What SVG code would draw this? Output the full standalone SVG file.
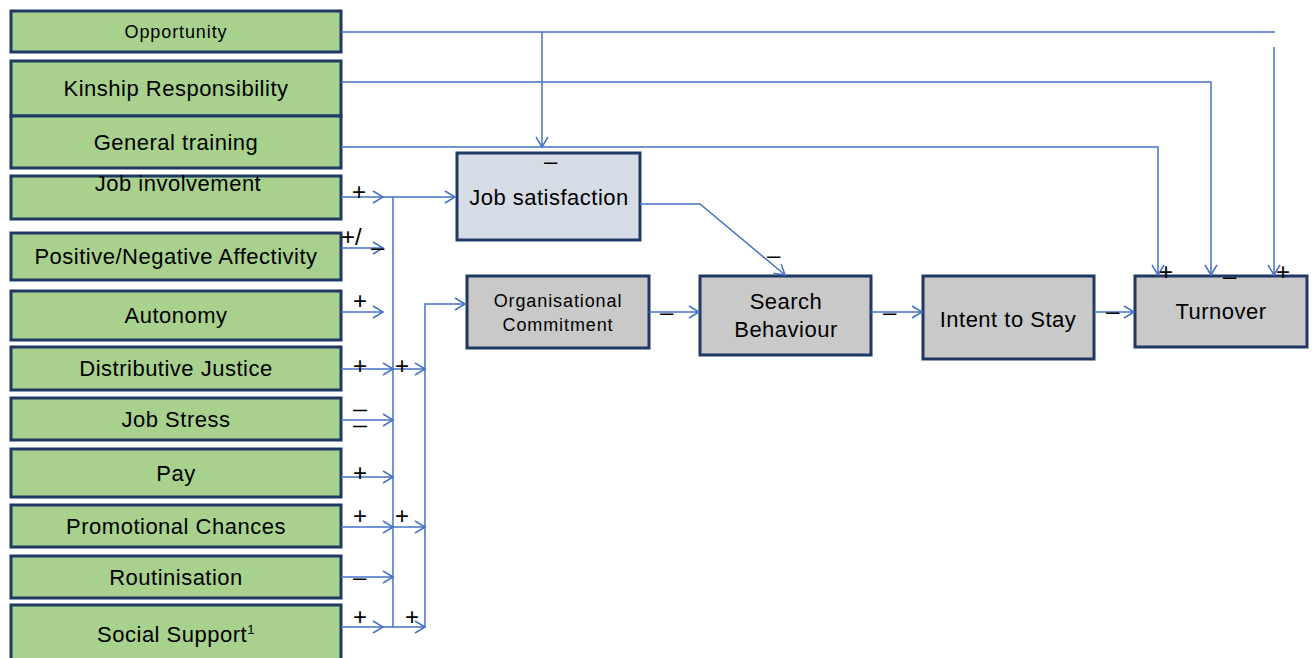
<svg xmlns="http://www.w3.org/2000/svg" width="1313" height="658" viewBox="0 0 1313 658">
<style>
.g{fill:#A9D18E;stroke:#1F3864;stroke-width:3}
.js{fill:#D6DCE5;stroke:#1F3864;stroke-width:3}
.gr{fill:#C9C9C9;stroke:#1F3864;stroke-width:3}
text{font-family:"Liberation Sans",Arial,sans-serif;fill:#000}
.t{font-size:22px;text-anchor:middle;letter-spacing:0.5px}
.s{font-size:18px;text-anchor:middle;letter-spacing:0.9px}
.l{font-size:24px}
.d{font-size:14px;font-weight:bold}
.c{fill:none;stroke:#4472C4;stroke-width:1.5}
</style>
<defs>
<marker id="a" markerUnits="userSpaceOnUse" markerWidth="14" markerHeight="16" viewBox="0 0 14 16" refX="12" refY="8" orient="auto">
<path d="M2,2 L12,8 L2,14" fill="none" stroke="#4472C4" stroke-width="1.5"/>
</marker>
</defs>
<rect width="1313" height="658" fill="#fff"/>
<g id="opportunity"><rect class="g" x="11" y="11" width="330" height="41"/><text class="s" x="176" y="38">Opportunity</text></g>
<g id="kinship"><rect class="g" x="11" y="61" width="330" height="55"/><text class="t" x="176" y="96">Kinship Responsibility</text></g>
<g id="training"><rect class="g" x="11" y="116" width="330" height="52"/><text class="t" x="176" y="150">General training</text></g>
<g id="involvement"><rect class="g" x="11" y="176" width="330" height="43"/><text class="t" x="178" y="191">Job involvement</text></g>
<g id="affectivity"><rect class="g" x="11" y="233" width="330" height="47"/><text class="t" x="176" y="264">Positive/Negative Affectivity</text></g>
<g id="autonomy"><rect class="g" x="11" y="291" width="330" height="49"/><text class="t" x="176" y="323">Autonomy</text></g>
<g id="justice"><rect class="g" x="11" y="347" width="330" height="43"/><text class="t" x="176" y="376">Distributive Justice</text></g>
<g id="stress"><rect class="g" x="11" y="398" width="330" height="42"/><text class="t" x="176" y="427">Job Stress</text></g>
<g id="pay"><rect class="g" x="11" y="449" width="330" height="48"/><text class="t" x="176" y="481">Pay</text></g>
<g id="promotion"><rect class="g" x="11" y="505" width="330" height="42"/><text class="t" x="176" y="534">Promotional Chances</text></g>
<g id="routinisation"><rect class="g" x="11" y="556" width="330" height="42"/><text class="t" x="176" y="585">Routinisation</text></g>
<g id="support"><rect class="g" x="11" y="605" width="330" height="60"/><text class="t" x="176" y="642">Social Support<tspan font-size="13" dy="-8">1</tspan></text></g>
<g id="satisfaction"><rect class="js" x="457" y="153" width="183" height="87"/><text class="t" x="549" y="205">Job satisfaction</text></g>
<g id="commitment"><rect class="gr" x="467" y="276" width="182" height="72"/><text class="s" x="558" y="307">Organisational</text><text class="s" x="558" y="331">Commitment</text></g>
<g id="search"><rect class="gr" x="700" y="276" width="171" height="79"/><text class="t" x="786" y="309">Search</text><text class="t" x="786" y="337">Behaviour</text></g>
<g id="intent"><rect class="gr" x="923" y="276" width="171" height="83"/><text class="t" x="1008" y="327">Intent to Stay</text></g>
<g id="turnover"><rect class="gr" x="1135" y="276" width="172" height="71"/><text class="t" x="1221" y="319">Turnover</text></g>
<g id="connectors">
<path class="c" d="M341,32 H1275"/>
<path class="c" d="M1274,47 V275" marker-end="url(#a)"/>
<path class="c" d="M542,32 V147" marker-end="url(#a)"/>
<path class="c" d="M341,82 H1211 V275" marker-end="url(#a)"/>
<path class="c" d="M341,147 H1158 V275" marker-end="url(#a)"/>
<path class="c" d="M640,204 H700 L785,275" marker-end="url(#a)"/>
<path class="c" d="M341,197 H383" marker-end="url(#a)"/>
<path class="c" d="M383,197 H455" marker-end="url(#a)"/>
<path class="c" d="M393,197 V627"/>
<path class="c" d="M341,248 H383" marker-end="url(#a)"/>
<path class="c" d="M341,312 H383" marker-end="url(#a)"/>
<path class="c" d="M341,369 H393" marker-end="url(#a)"/>
<path class="c" d="M393,369 H425" marker-end="url(#a)"/>
<path class="c" d="M341,420 H393" marker-end="url(#a)"/>
<path class="c" d="M341,477 H393" marker-end="url(#a)"/>
<path class="c" d="M341,527 H393" marker-end="url(#a)"/>
<path class="c" d="M393,527 H425" marker-end="url(#a)"/>
<path class="c" d="M341,577 H393" marker-end="url(#a)"/>
<path class="c" d="M341,627 H383" marker-end="url(#a)"/>
<path class="c" d="M383,627 H425" marker-end="url(#a)"/>
<path class="c" d="M425,627 V304 H465" marker-end="url(#a)"/>
<path class="c" d="M649,312 H699" marker-end="url(#a)"/>
<path class="c" d="M871,312 H922" marker-end="url(#a)"/>
<path class="c" d="M1094,312 H1134" marker-end="url(#a)"/>
</g>
<g id="labels">
<text class="l" x="352" y="200">+</text>
<text class="l" x="341" y="245">+/</text>
<text class="l" x="371" y="255">–</text>
<text class="l" x="353" y="309">+</text>
<text class="l" x="353" y="374">+</text>
<text class="l" x="395" y="374">+</text>
<text class="d" x="353" y="415">—</text>
<text class="d" x="353" y="431">—</text>
<text class="l" x="353" y="481">+</text>
<text class="l" x="353" y="524">+</text>
<text class="l" x="395" y="524">+</text>
<text class="l" x="353" y="585">–</text>
<text class="l" x="353" y="625">+</text>
<text class="l" x="405" y="625">+</text>
<text class="l" x="544" y="169">–</text>
<text class="l" x="767" y="263">–</text>
<text class="l" x="660" y="320">–</text>
<text class="l" x="883" y="320">–</text>
<text class="l" x="1106" y="319">–</text>
<text class="l" x="1159" y="280">+</text>
<text class="l" x="1223" y="284">–</text>
<text class="l" x="1276" y="280">+</text>
</g>
</svg>
